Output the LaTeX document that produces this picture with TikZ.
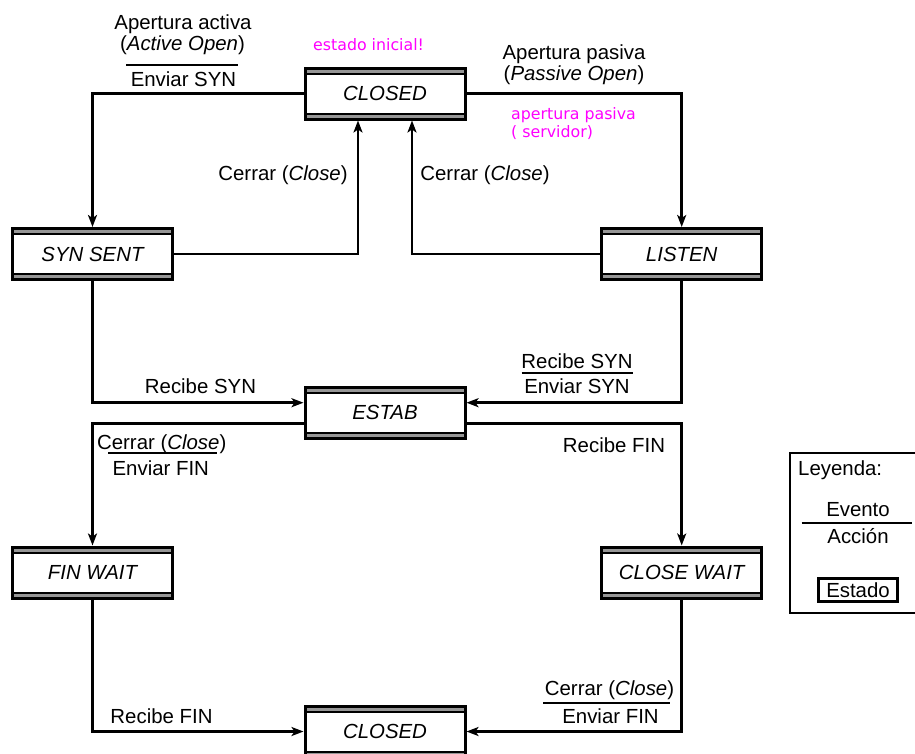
\documentclass[tikz,border=0pt]{standalone}
\usepackage{fontspec}
\setmainfont{Liberation Sans}
\newfontfamily\notafont{DejaVu Sans}
\usetikzlibrary{arrows.meta}
\usetikzlibrary{math}
\definecolor{barra}{RGB}{150,150,150}
\definecolor{notas}{RGB}{255,0,255}
\newcommand{\letra}{\fontsize{20.4pt}{24pt}\selectfont}
\tikzset{
	estado/.style={draw, line width=3pt, fill=white, minimum width=160pt, minimum height=51pt,
		inner sep=0pt, font=\letra\itshape,
		path picture={
			\fill[barra] (path picture bounding box.north west) rectangle ([yshift=-4.5pt]path picture bounding box.north east);
			\fill[barra] (path picture bounding box.south west) rectangle ([yshift=4.5pt]path picture bounding box.south east);
			\draw[line width=2pt] ([yshift=-5.5pt]path picture bounding box.north west) -- ([yshift=-5.5pt]path picture bounding box.north east);
			\draw[line width=2pt] ([yshift=5.5pt]path picture bounding box.south west) -- ([yshift=5.5pt]path picture bounding box.south east);
		}},
	flecha/.style={line width=2.5pt, -{Stealth[length=12pt,width=9pt,inset=3pt]}},
	etiqueta/.style={font=\letra, inner sep=0pt, anchor=base},
	nota/.style={font=\notafont\fontsize{15.8pt}{18pt}\selectfont, text=notas, inner sep=0pt, anchor=base west},
	raya/.style={line width=2pt}
}
\begin{document}
\begin{tikzpicture}[x=1pt,y=-1pt]
	\tikzmath{\xizq=92.5; \xcen=385; \xder=681.7;
	\yuno=93.5; \ydos=254; \ytres=412.7; \ycuatro=572.5; \ycinco=731.5;}
	\useasboundingbox (0,0) rectangle (915,753);
	\clip (0,0) rectangle (915,753);

	% estados
	\node[estado] (cerrado) at (\xcen,\yuno) {CLOSED};
	\node[estado] (synsent) at (\xizq,\ydos) {SYN SENT};
	\node[estado] (listen) at (\xder,\ydos) {LISTEN};
	\node[estado] (estab) at (\xcen,\ytres) {ESTAB};
	\node[estado] (finwait) at (\xizq,\ycuatro) {FIN WAIT};
	\node[estado] (closewait) at (\xder,\ycuatro) {CLOSE WAIT};
	\node[estado] (cerradofin) at (\xcen,\ycinco) {CLOSED};

	% transiciones
	\draw[flecha] (cerrado.west) -| (synsent.north);
	\draw[flecha] (cerrado.east) -| (listen.north);
	\draw[flecha] (synsent.east) -| ([xshift=-27pt]cerrado.south);
	\draw[flecha] (listen.west) -| ([xshift=27pt]cerrado.south);
	\draw[flecha] (synsent.south) |- ([yshift=10pt]estab.west);
	\draw[flecha] (listen.south) |- ([yshift=10pt]estab.east);
	\draw[flecha] ([yshift=-11pt]estab.west) -| (finwait.north);
	\draw[flecha] ([yshift=-11pt]estab.east) -| (closewait.north);
	\draw[flecha] (finwait.south) |- (cerradofin.west);
	\draw[flecha] (closewait.south) |- (cerradofin.east);

	% etiquetas
	\node[etiqueta] (activa) at (183,29.5) {Apertura activa};
	\node[etiqueta] (activaen) at (182.5,50) {(\textit{Active Open})};
	\draw[raya] (126,64.5) -- (238,64.5);
	\node[etiqueta] (enviarsyn) at (183.5,86) {Enviar SYN};
	\node[etiqueta] (pasiva) at (574,59) {Apertura pasiva};
	\node[etiqueta] (pasivaen) at (574,80) {(\textit{Passive Open})};
	\node[etiqueta] (cerrarizq) at (283,180) {Cerrar (\textit{Close})};
	\node[etiqueta] (cerrarder) at (485,180) {Cerrar (\textit{Close})};
	\node[etiqueta] (recibesynizq) at (200.5,393) {Recibe SYN};
	\node[etiqueta] (recibesynder) at (577,368.3) {Recibe SYN};
	\draw[raya] (521.7,373.3) -- (633.3,373.3);
	\node[etiqueta] (enviarsynder) at (577,393.3) {Enviar SYN};
	\node[etiqueta] (cerrarfinizq) at (161.7,449.3) {Cerrar (\textit{Close})};
	\draw[raya] (108,453.3) -- (217,453.3);
	\node[etiqueta] (enviarfinizq) at (160.8,475) {Enviar FIN};
	\node[etiqueta] (recibefinder) at (614,452) {Recibe FIN};
	\node[etiqueta] (recibefinizq) at (161.5,723) {Recibe FIN};
	\node[etiqueta] (cerrarfinder) at (609.5,695.7) {Cerrar (\textit{Close})};
	\draw[raya] (543,702.7) -- (670,702.7);
	\node[etiqueta] (enviarfinder) at (610.5,723.3) {Enviar FIN};

	% notas
	\node[nota] (inicial) at (313,50) {estado inicial!};
	\node[nota] (servidor1) at (511,119.3) {apertura pasiva};
	\node[nota] (servidor2) at (511,137.3) {( servidor)};

	% leyenda
	\draw[line width=2.5pt] (790,453) rectangle (930,613);
	\node[etiqueta, anchor=base west] (leyenda) at (798,475) {Leyenda:};
	\node[etiqueta] (evento) at (858,516.7) {Evento};
	\draw[raya] (801.7,523.3) -- (911.7,523.3);
	\node[etiqueta] (accion) at (858,543.3) {Acción};
	\node[draw, line width=3pt, minimum width=79pt, minimum height=23pt, inner sep=0pt, font=\letra] (estadoley) at (858,590) {Estado};
\end{tikzpicture}
\end{document}
